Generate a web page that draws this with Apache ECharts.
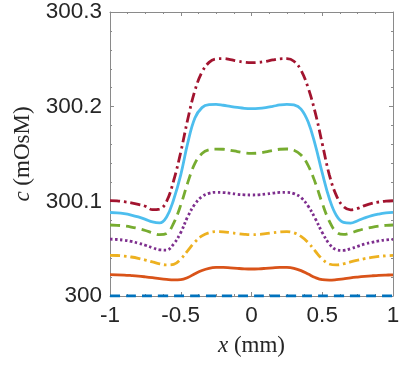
<!doctype html>
<html>
	<head>
		<meta charset="utf-8">
		<title></title>
		<script src="https://cdn.jsdelivr.net/npm/echarts@6/dist/echarts.min.js"></script>
		<style>
			html, body { margin: 0; padding: 0; background: #fff; }
		</style>
	</head>
	<body>
		<div id="main" style="width: 407px;height:370px;margin: 0px;padding: 0px;"></div>
		<script type="text/javascript">
			// x positions (mm)
			var xs = [-1, -0.95, -0.9, -0.85, -0.8, -0.75, -0.7, -0.65, -0.6, -0.55, -0.5, -0.45, -0.4, -0.35, -0.3, -0.25, -0.2, -0.15, -0.1, -0.05, 0,
				0.05, 0.1, 0.15, 0.2, 0.25, 0.3, 0.35, 0.4, 0.45, 0.5, 0.55, 0.6, 0.65, 0.7, 0.75, 0.8, 0.85, 0.9, 0.95, 1];

			// concentration curves (mOsM)
			var cBlue = [300, 300, 300, 300, 300, 300, 300, 300, 300, 300, 300, 300, 300, 300, 300, 300, 300, 300, 300, 300, 300,
				300, 300, 300, 300, 300, 300, 300, 300, 300, 300, 300, 300, 300, 300, 300, 300, 300, 300, 300, 300];
			var cOrange = [300.0225, 300.0224, 300.0221, 300.0216, 300.0210, 300.0202, 300.0193, 300.0183, 300.0175, 300.0170, 300.0172, 300.0195, 300.0235, 300.0270, 300.0293, 300.0302, 300.0303, 300.0298, 300.0292, 300.0287, 300.0285,
				300.0287, 300.0292, 300.0298, 300.0303, 300.0302, 300.0292, 300.0268, 300.0232, 300.0195, 300.0172, 300.0168, 300.0173, 300.0182, 300.0192, 300.0200, 300.0207, 300.0213, 300.0218, 300.0221, 300.0223];
			var cYellow = [300.0430, 300.0428, 300.0422, 300.0412, 300.0398, 300.0380, 300.0360, 300.0340, 300.0328, 300.0335, 300.0390, 300.0480, 300.0570, 300.0635, 300.0668, 300.0680, 300.0678, 300.0670, 300.0660, 300.0652, 300.0648,
				300.0650, 300.0658, 300.0668, 300.0677, 300.0680, 300.0668, 300.0630, 300.0565, 300.0475, 300.0390, 300.0338, 300.0328, 300.0340, 300.0360, 300.0378, 300.0395, 300.0408, 300.0418, 300.0425, 300.0429];
			var cPurple = [300.0600, 300.0597, 300.0589, 300.0576, 300.0558, 300.0536, 300.0510, 300.0488, 300.0485, 300.0550, 300.0670, 300.0840, 300.0970, 300.1050, 300.1085, 300.1095, 300.1093, 300.1085, 300.1075, 300.1069, 300.1067,
				300.1069, 300.1076, 300.1086, 300.1094, 300.1095, 300.1082, 300.1040, 300.0950, 300.0820, 300.0670, 300.0550, 300.0490, 300.0482, 300.0500, 300.0525, 300.0548, 300.0567, 300.0582, 300.0593, 300.0599];
			var cGreen = [300.0750, 300.0747, 300.0740, 300.0728, 300.0712, 300.0692, 300.0668, 300.0648, 300.0660, 300.0770, 300.0960, 300.1200, 300.1400, 300.1505, 300.1545, 300.1552, 300.1550, 300.1540, 300.1525, 300.1512, 300.1507,
				300.1510, 300.1522, 300.1538, 300.1550, 300.1553, 300.1540, 300.1490, 300.1380, 300.1200, 300.0980, 300.0790, 300.0675, 300.0650, 300.0665, 300.0690, 300.0710, 300.0726, 300.0738, 300.0746, 300.0750];
			var cCyan = [300.0882, 300.0879, 300.0870, 300.0855, 300.0835, 300.0810, 300.0782, 300.0772, 300.0835, 300.1020, 300.1280, 300.1620, 300.1880, 300.1990, 300.2022, 300.2025, 300.2015, 300.2003, 300.1992, 300.1983, 300.1980,
				300.1982, 300.1990, 300.2003, 300.2018, 300.2025, 300.2018, 300.1975, 300.1840, 300.1600, 300.1300, 300.1030, 300.0850, 300.0778, 300.0770, 300.0795, 300.0825, 300.0850, 300.0866, 300.0877, 300.0883];
			var cRed = [300.1007, 300.1004, 300.0996, 300.0984, 300.0968, 300.0948, 300.0912, 300.0918, 300.1000, 300.1220, 300.1520, 300.1870, 300.2170, 300.2365, 300.2468, 300.2505, 300.2508, 300.2497, 300.2482, 300.2470, 300.2465,
				300.2468, 300.2478, 300.2493, 300.2505, 300.2507, 300.2480, 300.2385, 300.2200, 300.1940, 300.1610, 300.1280, 300.1060, 300.0945, 300.0910, 300.0925, 300.0955, 300.0978, 300.0993, 300.1002, 300.1006];

			var xTickLabels = ['-1', '-0.5', '0', '0.5', '1'];
			var yTickLabels = ['300', '300.1', '300.2', '300.3'];

			var myChart = echarts.init(document.getElementById('main'), null, { renderer: 'canvas' });

			function pairs(ys) {
				return xs.map(function(x, i) { return [x, ys[i]]; });
			}

			var labelFont = 'Liberation Sans';
			var nameFont = 'Liberation Serif';
			var axisCol = '#8a8a8a';
			var textCol = '#262626';

			function xAx(pos, showLabel) {
				return {
					type: 'value', position: pos, min: -1, max: 1, interval: 0.5,
					axisLine: { show: true, onZero: false, lineStyle: { color: axisCol, width: 1 } },
					axisTick: { show: true, inside: true, length: 4, lineStyle: { color: axisCol } },
					minorTick: { show: true, splitNumber: 4, length: 2, lineStyle: { color: axisCol } },
					splitLine: { show: false },
					axisLabel: {
						show: showLabel, margin: 8, fontFamily: labelFont, fontSize: 22.5, color: textCol,
						formatter: function(v) { return xTickLabels[Math.round((v + 1) / 0.5)]; }
					},
					name: showLabel ? '{i|x} (mm)' : '',
					nameLocation: 'middle', nameGap: 38,
					nameTextStyle: {
						fontFamily: nameFont, fontSize: 23, color: textCol,
						rich: { i: { fontStyle: 'italic', fontFamily: nameFont, fontSize: 23, color: textCol } }
					}
				};
			}

			function yAx(pos, showLabel) {
				return {
					type: 'value', position: pos, min: 300, max: 300.3, interval: 0.1,
					axisLine: { show: true, onZero: false, lineStyle: { color: axisCol, width: 1 } },
					axisTick: { show: true, inside: true, length: 4, lineStyle: { color: axisCol } },
					minorTick: { show: true, splitNumber: 5, length: 2, lineStyle: { color: axisCol } },
					splitLine: { show: false },
					axisLabel: {
						show: showLabel, margin: 8, fontFamily: labelFont, fontSize: 22.5, color: textCol,
						formatter: function(v) { return yTickLabels[Math.round((v - 300) / 0.1)]; }
					},
					name: showLabel ? '{i|c} (mOsM)' : '',
					nameLocation: 'middle', nameGap: 71, nameRotate: 90,
					nameTextStyle: {
						fontFamily: nameFont, fontSize: 23, color: textCol,
						rich: { i: { fontStyle: 'italic', fontFamily: nameFont, fontSize: 23, color: textCol } }
					}
				};
			}

			function line(ys, color, type) {
				return {
					type: 'line', data: pairs(ys), xAxisIndex: 0, yAxisIndex: 0,
					smooth: 0.4, symbol: 'none', silent: true,
					lineStyle: { color: color, width: 2.8, type: type, cap: 'butt' }
				};
			}

			var option = {
				animation: false,
				backgroundColor: '#fff',
				grid: { left: 110, right: 14, top: 12, bottom: 74 },
				xAxis: [xAx('bottom', true), xAx('top', false)],
				yAxis: [yAx('left', true), yAx('right', false)],
				series: [
					line(cBlue, '#0072BD', [10, 6]),
					line(cOrange, '#D95319', 'solid'),
					line(cYellow, '#EDB120', [10, 4, 2.5, 4]),
					line(cPurple, '#7E2F8E', [2.5, 2.5]),
					line(cGreen, '#77AC30', [10, 6]),
					line(cCyan, '#4DBEEE', 'solid'),
					line(cRed, '#A2142F', [10, 4, 2.5, 4])
				]
			};

			myChart.setOption(option);
		</script>
	</body>
</html>
